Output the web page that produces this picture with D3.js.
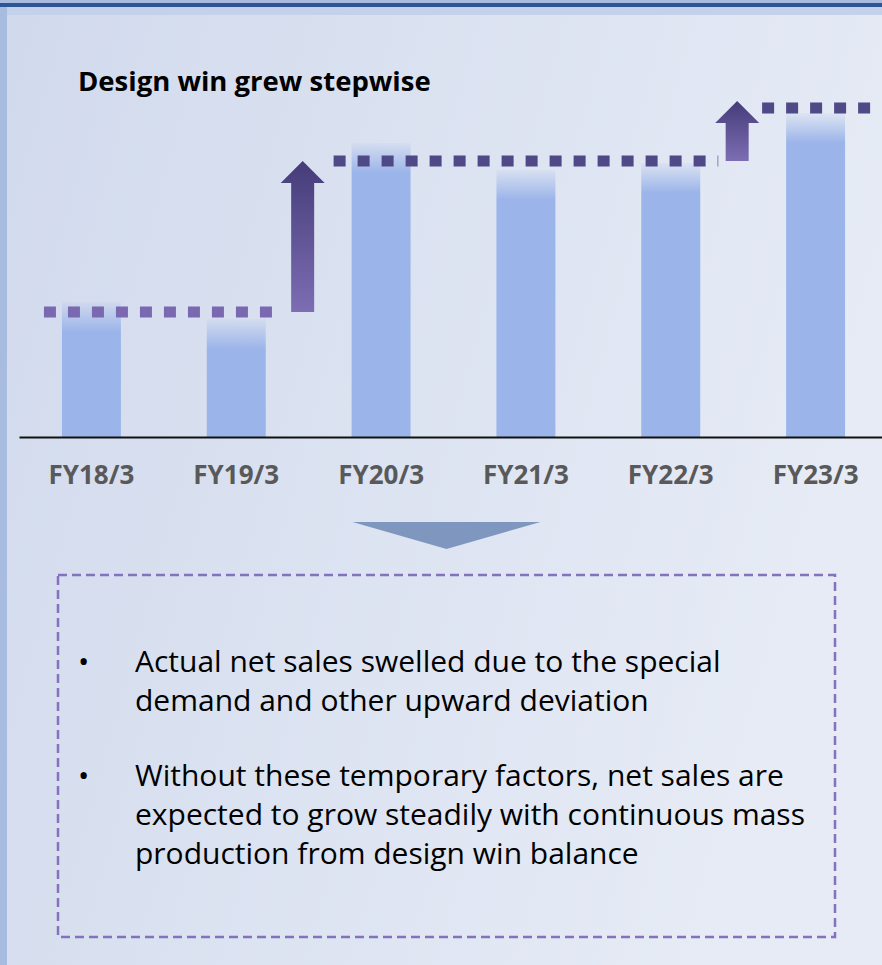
<!DOCTYPE html>
<html>
<head>
<meta charset="utf-8">
<script src="https://cdn.jsdelivr.net/npm/d3@7"></script>
<style>
  body { margin: 0; padding: 0; background: #d3dcee; }
  svg { display: block; font-family: "Open Sans", "Noto Sans", sans-serif; }
</style>
</head>
<body>
<div id="visualization"></div>
<script>
// ---------DATA---------
var categories = ["FY18/3", "FY19/3", "FY20/3", "FY21/3", "FY22/3", "FY23/3"];
var barValues = [135, 118, 294, 267, 274, 324];
// stepwise design win levels: first bar index, last bar index, value
var levelStart = [0, 2, 5];
var levelEnd = [1, 4, 5];
var levelValues = [125, 276, 329];
// arrows between bars: left bar index, from value, to value
var arrowAfter = [1, 4];
var arrowFrom = [125, 276];
var arrowTo = [276, 336];
var title = "Design win grew stepwise";
var bullets = [
    ["Actual net sales swelled due to the special", "demand and other upward deviation"],
    ["Without these temporary factors, net sales are", "expected to grow steadily with continuous mass", "production from design win balance"]
];

var width = 882, height = 965;
var baseY = 437;

var svg = d3.select("#visualization").append("svg")
    .attr("width", width)
    .attr("height", height);

var defs = svg.append("defs");

var bgGrad = defs.append("linearGradient").attr("id", "bgGrad")
    .attr("x1", "0%").attr("y1", "0%").attr("x2", "100%").attr("y2", "30%");
bgGrad.append("stop").attr("offset", "0%").attr("stop-color", "#d1daed");
bgGrad.append("stop").attr("offset", "100%").attr("stop-color", "#e6ebf5");

var fadeGrad = defs.append("linearGradient").attr("id", "fadeGrad")
    .attr("x1", 0).attr("y1", 0).attr("x2", 0).attr("y2", 1);
fadeGrad.append("stop").attr("offset", "0%").attr("stop-color", "#9bb4e9").attr("stop-opacity", 0.08);
fadeGrad.append("stop").attr("offset", "100%").attr("stop-color", "#9bb4e9").attr("stop-opacity", 1);

var arrowGrad = defs.append("linearGradient").attr("id", "arrowGrad")
    .attr("x1", 0).attr("y1", 0).attr("x2", 0).attr("y2", 1);
arrowGrad.append("stop").attr("offset", "0%").attr("stop-color", "#453c79");
arrowGrad.append("stop").attr("offset", "100%").attr("stop-color", "#7d6db3");

// ---------FRAME---------
svg.append("rect").attr("width", width).attr("height", height).attr("fill", "#a7bcdf");
svg.append("rect").attr("x", 0).attr("y", 3).attr("width", width).attr("height", 4).attr("fill", "#2f5597");
svg.append("rect").attr("x", 7).attr("y", 7).attr("width", width - 7).attr("height", 8).attr("fill", "#c3d1eb");
svg.append("rect").attr("x", 7).attr("y", 15).attr("width", width - 7).attr("height", height - 15).attr("fill", "url(#bgGrad)");

// ---------SCALES---------
var x = d3.scaleBand()
    .domain(categories)
    .range([19, 888])
    .paddingInner(0.593)
    .paddingOuter(0.2965);

var y = d3.scaleLinear()
    .domain([0, 330])
    .range([baseY, baseY - 330]);

var fadeH = 30;

// ---------BARS---------
var bars = svg.append("g").attr("class", "bars");
bars.selectAll(".bar")
    .data(barValues)
    .enter().append("rect")
    .attr("class", "bar")
    .attr("x", function(d, i) { return x(categories[i]); })
    .attr("y", function(d) { return y(d) + fadeH; })
    .attr("width", x.bandwidth())
    .attr("height", function(d) { return baseY - y(d) - fadeH; })
    .attr("fill", "#9bb4e9");
bars.selectAll(".fade")
    .data(barValues)
    .enter().append("rect")
    .attr("class", "fade")
    .attr("x", function(d, i) { return x(categories[i]); })
    .attr("y", function(d) { return y(d); })
    .attr("width", x.bandwidth())
    .attr("height", fadeH)
    .attr("fill", "url(#fadeGrad)");

// ---------AXIS---------
var axis = svg.append("g")
    .attr("transform", "translate(0," + baseY + ")")
    .call(d3.axisBottom(x).tickSize(0).tickPadding(29));
axis.select(".domain").attr("stroke", "#111").attr("stroke-width", 2);
axis.selectAll("text")
    .attr("font-family", "'Open Sans', sans-serif")
    .attr("font-size", 26)
    .attr("font-weight", "bold")
    .attr("fill", "#595959");

// ---------LEVEL LINES---------
var ext = 18;
svg.append("g").selectAll("line")
    .data(levelValues)
    .enter().append("line")
    .attr("x1", function(d, i) { return x(categories[levelStart[i]]) - ext - (i == 2 ? 6 : 0); })
    .attr("x2", function(d, i) {
        return i == levelValues.length - 1 ? width : x(categories[levelEnd[i]]) + x.bandwidth() + ext;
    })
    .attr("y1", function(d) { return y(d); })
    .attr("y2", function(d) { return y(d); })
    .attr("stroke", function(d, i) { return i == 0 ? "#7a69b0" : "#4f4988"; })
    .attr("stroke-width", 11)
    .attr("stroke-dasharray", "12 12");

// ---------ARROWS---------
var headW = 44, headH = 22, shaftW = 23;
svg.append("g").selectAll("path")
    .data(arrowAfter)
    .enter().append("path")
    .attr("d", function(d, i) {
        var cx = (x(categories[d]) + x.bandwidth() + x(categories[d + 1])) / 2 - 6;
        var y0 = y(arrowFrom[i]), y1 = y(arrowTo[i]);
        return "M" + (cx - shaftW / 2) + "," + y0 +
            "V" + (y1 + headH) + "H" + (cx - headW / 2) +
            "L" + cx + "," + y1 +
            "L" + (cx + headW / 2) + "," + (y1 + headH) +
            "H" + (cx + shaftW / 2) + "V" + y0 + "Z";
    })
    .attr("fill", "url(#arrowGrad)");

// ---------TITLE---------
svg.append("text")
    .attr("x", 78).attr("y", 91)
    .attr("font-size", 27.5)
    .attr("font-weight", "bold")
    .attr("fill", "#000")
    .text(title);

// ---------BOX---------
var box = { x: 58, y: 575, w: 777, h: 362 };
var bcx = box.x + box.w / 2;
svg.append("path")
    .attr("d", "M" + (bcx - 94) + ",522L" + (bcx + 94) + ",522L" + bcx + ",549Z")
    .attr("fill", "#7f97bf");
svg.append("rect")
    .attr("x", box.x).attr("y", box.y)
    .attr("width", box.w).attr("height", box.h)
    .attr("fill", "none")
    .attr("stroke", "#8572bf")
    .attr("stroke-width", 2.5)
    .attr("stroke-dasharray", "9 5");

// ---------BULLETS---------
var lineH = 39;
var startY = [672, 786];
var tg = svg.append("g");
bullets.forEach(function(lines, b) {
    tg.append("text")
        .attr("x", 78).attr("y", startY[b])
        .attr("font-size", 30)
        .text("\u2022");
    lines.forEach(function(l, j) {
        tg.append("text")
            .attr("x", 135).attr("y", startY[b] + j * lineH)
            .attr("font-size", 30)
            .attr("fill", "#000")
            .text(l);
    });
});
</script>
</body>
</html>
